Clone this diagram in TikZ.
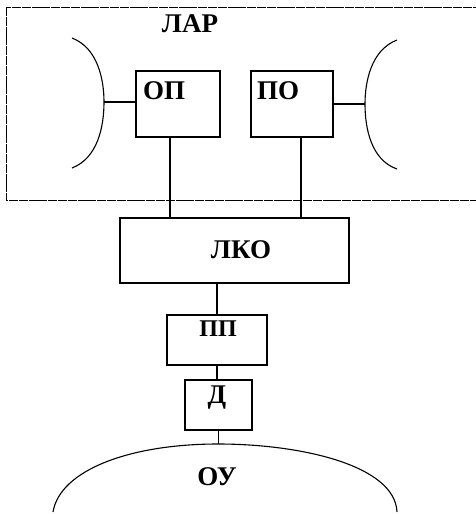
\documentclass[tikz,border=0pt]{standalone}
\usepackage{fontspec}
\setmainfont{Liberation Serif}
\begin{document}
\begin{tikzpicture}[x=1pt,y=-1pt,line width=1.1pt,
  box/.style={draw,rectangle,inner sep=0pt,line width=1.1pt},
  lbl/.style={inner sep=0pt,font=\bfseries\fontsize{27}{27}\selectfont}]
\useasboundingbox (0,0) rectangle (476,514);
% outer dashed frame
\draw[line width=1pt,dash pattern=on 9pt off 0.8pt] (6,7) rectangle (482,200);
\node[lbl] (lar) at (190,24) {ЛАР};
% boxes
\node[box,minimum width=84pt,minimum height=66pt] (op) at (178,104) {};
\node[box,minimum width=82pt,minimum height=66pt] (po) at (292,104) {};
\node[box,minimum width=229pt,minimum height=65pt] (lko) at (234.5,250.5) {};
\node[box,minimum width=100pt,minimum height=50pt] (pp) at (217,340) {};
\node[box,minimum width=67pt,minimum height=50pt] (d) at (218.5,405) {};
% texts
\node[lbl] (opt) at (164,91) {ОП};
\node[lbl] (pot) at (278,91) {ПО};
\node[lbl] (lkot) at (241,250) {ЛКО};
\node[lbl,font=\bfseries\fontsize{24}{24}\selectfont] (ppt) at (218,329) {ПП};
\node[lbl] (dt) at (217,398) {Д};
\node[lbl] (out) at (217,477) {ОУ};
% arcs
\coordinate (arcL) at (104,102);
\coordinate (arcR) at (365,104);
\draw (72,38) .. controls (98,48) and (104,80) .. (arcL) .. controls (104,126) and (98,158) .. (72,168);
\draw (397,40) .. controls (371,50) and (365,82) .. (arcR) .. controls (365,128) and (371,160) .. (397,169);
\coordinate (ou) at (218,444);
\draw (53,512) .. controls (60,470) and (130,444) .. (ou) .. controls (300,444) and (395,465) .. (397,512);
% connectors
\draw (arcL) -- (op.west |- arcL);
\draw (po.east |- arcR) -- (arcR);
\draw ([xshift=-8pt]op.south) -- ([xshift=-8pt]op.south |- lko.north);
\draw ([xshift=9pt]po.south) -- ([xshift=9pt]po.south |- lko.north);
\draw (pp.north |- lko.south) -- (pp.north);
\draw (pp.south) -- (pp.south |- d.north);
\draw (d.south) -- (d.south |- ou);
\end{tikzpicture}
\end{document}
